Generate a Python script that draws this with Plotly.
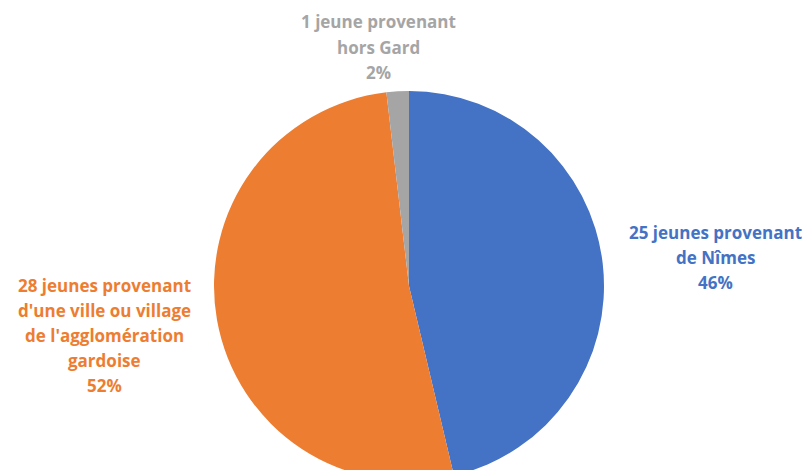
import plotly.graph_objects as go

categories = ["25 jeunes provenant de Nîmes",
              "28 jeunes provenant d'une ville ou village de l'agglomération gardoise",
              "1 jeune provenant hors Gard"]
values = [25, 28, 1]
colors = ["#4472C4", "#ED7D31", "#A5A5A5"]
label_lines = [
    ["25 jeunes provenant", "de Nîmes"],
    ["28 jeunes provenant", "d'une ville ou village", "de l'agglomération", "gardoise"],
    ["1 jeune provenant", "hors Gard"],
]

W, H = 810, 490
cx, cy, r = 409, 286, 195

fig = go.Figure(go.Pie(
    labels=categories, values=values, sort=False, direction="clockwise", rotation=0,
    marker=dict(colors=colors, line=dict(color="white", width=0)),
    textinfo="none", hoverinfo="skip", showlegend=False,
    domain=dict(x=[(cx - r) / W, (cx + r) / W], y=[(H - cy - r) / H, (H - cy + r) / H]),
))

# label anchor (center x, first line y) in pixels
anchors = [(715, 232), (104, 285), (378, 22)]
spacing = 25
total = sum(values)
for lines, val, col, (ax, ay) in zip(label_lines, values, colors, anchors):
    pct = f"{round(val / total * 100)}%"
    for i, t in enumerate(lines + [pct]):
        fig.add_annotation(x=ax / W, y=1 - (ay + i * spacing) / H, xref="paper", yref="paper",
                           text=f"<b>{t}</b>", showarrow=False, xanchor="center", yanchor="middle",
                           font=dict(family="Open Sans", size=17, color=col))

fig.update_layout(width=W, height=H, margin=dict(l=0, r=0, t=0, b=0),
                  paper_bgcolor="white", plot_bgcolor="white")

fig.write_html("out.html", config={"displayModeBar": False},
               post_script="document.body.style.margin='0';document.body.style.overflow='hidden';")
